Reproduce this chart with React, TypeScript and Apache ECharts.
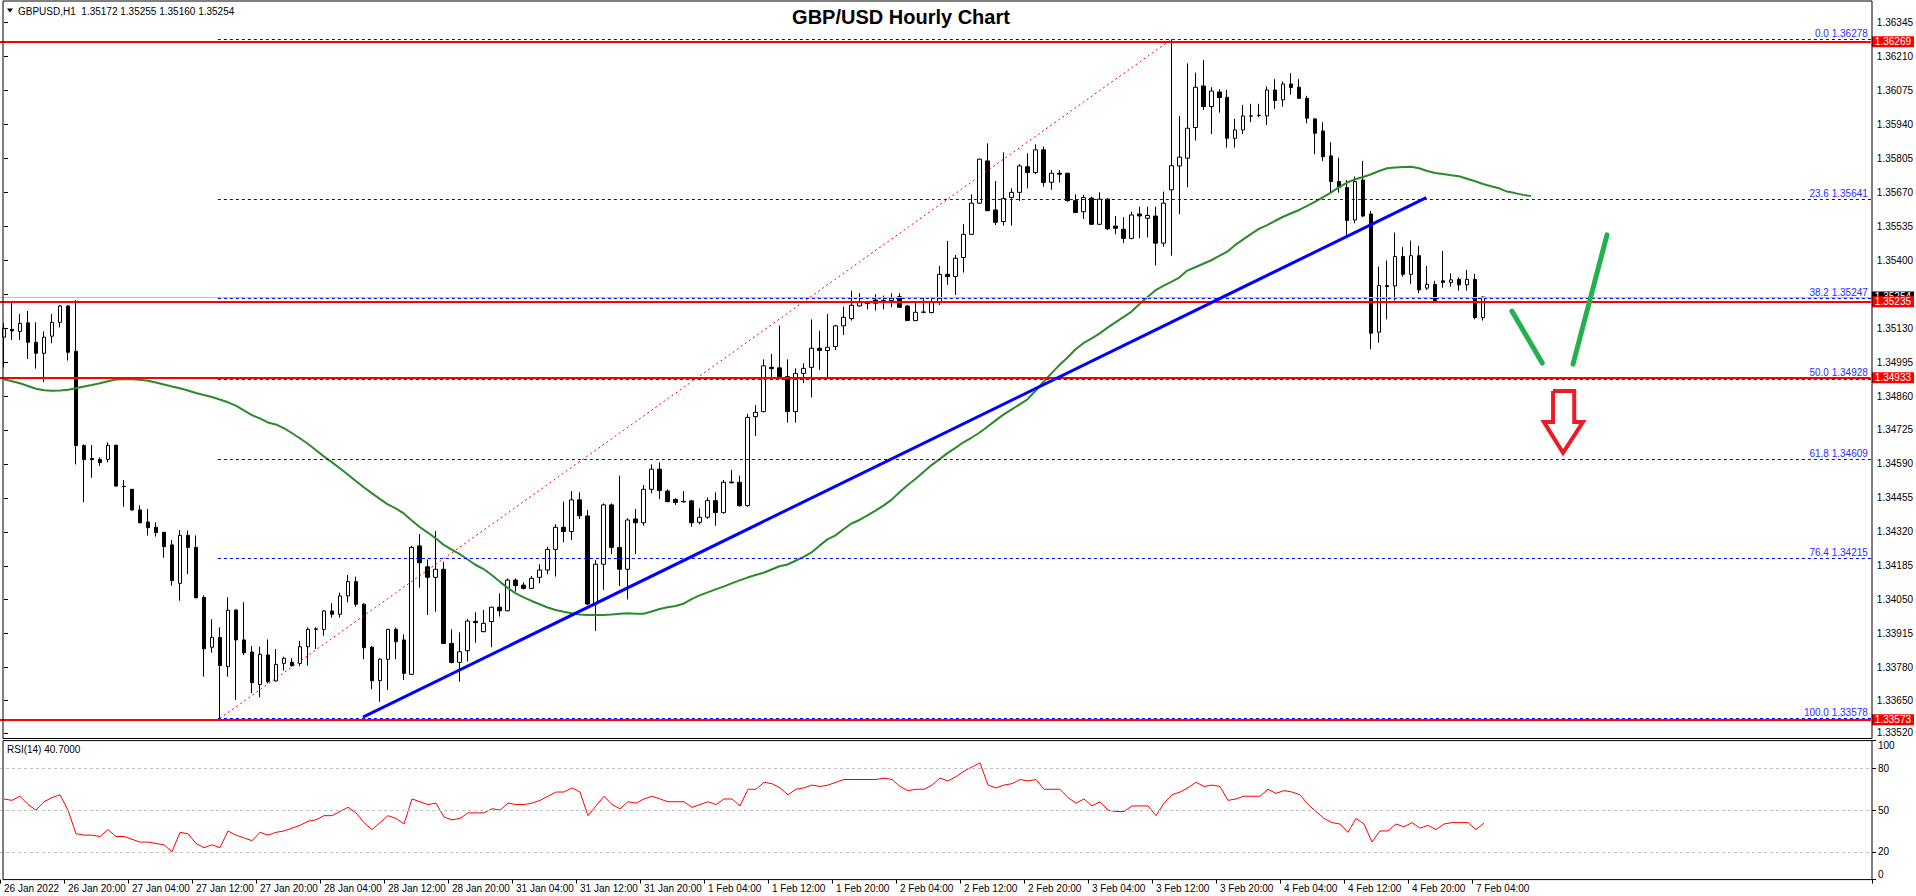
import React, { useEffect, useRef } from "react";
import * as echarts from "echarts";

const xTickLabels = [
  "26 Jan 2022", "26 Jan 20:00", "27 Jan 04:00", "27 Jan 12:00", "27 Jan 20:00", "28 Jan 04:00",
  "28 Jan 12:00", "28 Jan 20:00", "31 Jan 04:00", "31 Jan 12:00", "31 Jan 20:00", "1 Feb 04:00",
  "1 Feb 12:00", "1 Feb 20:00", "2 Feb 04:00", "2 Feb 12:00", "2 Feb 20:00", "3 Feb 04:00",
  "3 Feb 12:00", "3 Feb 20:00", "4 Feb 04:00", "4 Feb 12:00", "4 Feb 20:00", "7 Feb 04:00",
];

// hourly candles, 26 Jan 12:00 .. 7 Feb 05:00 : [open, high, low, close]
const candles: number[][] = [
  [1.35094, 1.35149, 1.34974, 1.35129], [1.35125, 1.35231, 1.35083, 1.35119], [1.35117, 1.35186, 1.35083, 1.35149],
  [1.35151, 1.35198, 1.35007, 1.35074], [1.35074, 1.35153, 1.34969, 1.3503], [1.3503, 1.35117, 1.34915, 1.35094],
  [1.35098, 1.35186, 1.3507, 1.35153], [1.35153, 1.35222, 1.35133, 1.35218], [1.35218, 1.35222, 1.35001, 1.35034],
  [1.35038, 1.35242, 1.34588, 1.34663], [1.34663, 1.34668, 1.34437, 1.34607], [1.34612, 1.34665, 1.34535, 1.34607],
  [1.34608, 1.34616, 1.34582, 1.34595], [1.34608, 1.34676, 1.34596, 1.34664], [1.34664, 1.34667, 1.345, 1.34502],
  [1.34501, 1.34526, 1.3442, 1.345], [1.34489, 1.3449, 1.34404, 1.34407], [1.34407, 1.34425, 1.34354, 1.34356],
  [1.34359, 1.34411, 1.34305, 1.34337], [1.34338, 1.34358, 1.34301, 1.34317], [1.34318, 1.34319, 1.34217, 1.34261],
  [1.34268, 1.34287, 1.34106, 1.34126], [1.34115, 1.34327, 1.34046, 1.34306], [1.34306, 1.34325, 1.34152, 1.34258],
  [1.34258, 1.34306, 1.34055, 1.34058], [1.34059, 1.34067, 1.33744, 1.33855], [1.33861, 1.33972, 1.33839, 1.339],
  [1.339, 1.3394, 1.33578, 1.33788], [1.33784, 1.34059, 1.33744, 1.34008], [1.34009, 1.34012, 1.33651, 1.3389],
  [1.3389, 1.3404, 1.3383, 1.33839], [1.33842, 1.33866, 1.33678, 1.3372], [1.33713, 1.33863, 1.33662, 1.33833],
  [1.3383, 1.33892, 1.33717, 1.33724], [1.33727, 1.33854, 1.33724, 1.33793], [1.33797, 1.33823, 1.33768, 1.33817],
  [1.33801, 1.33817, 1.33784, 1.33788], [1.33797, 1.33886, 1.33786, 1.33863], [1.33863, 1.3394, 1.33788, 1.33932],
  [1.33932, 1.3394, 1.33854, 1.33934], [1.33932, 1.34009, 1.33907, 1.34005], [1.34005, 1.34036, 1.33979, 1.33992],
  [1.33992, 1.34078, 1.33979, 1.34065], [1.34065, 1.34148, 1.3404, 1.34122], [1.34122, 1.34142, 1.34022, 1.34032],
  [1.34032, 1.34036, 1.33813, 1.33859], [1.33861, 1.33866, 1.33694, 1.33728], [1.33728, 1.33817, 1.33644, 1.33813],
  [1.33813, 1.33934, 1.33691, 1.33932], [1.33932, 1.33939, 1.33813, 1.33883], [1.3389, 1.33912, 1.33731, 1.33757],
  [1.33753, 1.34264, 1.33751, 1.34258], [1.34264, 1.34311, 1.34098, 1.34197], [1.34181, 1.3421, 1.33989, 1.34139],
  [1.34139, 1.34323, 1.34002, 1.34171], [1.34171, 1.34201, 1.33874, 1.33876], [1.33876, 1.33932, 1.33797, 1.338],
  [1.33801, 1.3392, 1.33724, 1.33843], [1.33847, 1.33973, 1.33804, 1.33965], [1.33964, 1.34, 1.33879, 1.33959],
  [1.33923, 1.34009, 1.3392, 1.33956], [1.33963, 1.34022, 1.33861, 1.3402], [1.3402, 1.34075, 1.33983, 1.34006],
  [1.34006, 1.34135, 1.34004, 1.34128], [1.34128, 1.34135, 1.34082, 1.34106], [1.34108, 1.34119, 1.34091, 1.34095],
  [1.34095, 1.34144, 1.34093, 1.34135], [1.34139, 1.34191, 1.34115, 1.34168], [1.34168, 1.34261, 1.34151, 1.3425],
  [1.3425, 1.3435, 1.34142, 1.34338], [1.34338, 1.3444, 1.34278, 1.34321], [1.34321, 1.34482, 1.34287, 1.34447],
  [1.34447, 1.34477, 1.34371, 1.34384], [1.34383, 1.34407, 1.34029, 1.34033], [1.34033, 1.34208, 1.33926, 1.34191],
  [1.34191, 1.34433, 1.34089, 1.34427], [1.34427, 1.34433, 1.34232, 1.34258], [1.34258, 1.34543, 1.34105, 1.34171],
  [1.34171, 1.34374, 1.34051, 1.34367], [1.34371, 1.34411, 1.34232, 1.34356], [1.34356, 1.34506, 1.34344, 1.34489],
  [1.34489, 1.34588, 1.34473, 1.34569], [1.34569, 1.34596, 1.3445, 1.34484], [1.34482, 1.34489, 1.34437, 1.3444],
  [1.34449, 1.34453, 1.34427, 1.34437], [1.34441, 1.34482, 1.34437, 1.34439], [1.34443, 1.34447, 1.3434, 1.34356],
  [1.34358, 1.34413, 1.3435, 1.34378], [1.34378, 1.34457, 1.34372, 1.34444], [1.34444, 1.34477, 1.34344, 1.34397],
  [1.34396, 1.34526, 1.34393, 1.34517], [1.34518, 1.34566, 1.34513, 1.34515], [1.34517, 1.34543, 1.3442, 1.34424],
  [1.34424, 1.34789, 1.3442, 1.34775], [1.34778, 1.34824, 1.34701, 1.34795], [1.34798, 1.35006, 1.34795, 1.3498],
  [1.34974, 1.35027, 1.34928, 1.34969], [1.34972, 1.3514, 1.3493, 1.34937], [1.34937, 1.35006, 1.34754, 1.34798],
  [1.34798, 1.3497, 1.34754, 1.3495], [1.3495, 1.3499, 1.34911, 1.3497], [1.34974, 1.35165, 1.34854, 1.3505],
  [1.3505, 1.35119, 1.34964, 1.35041], [1.35041, 1.35186, 1.34931, 1.35054], [1.35057, 1.35143, 1.35043, 1.35139],
  [1.35139, 1.35216, 1.35103, 1.35173], [1.35168, 1.35278, 1.3516, 1.35221], [1.35218, 1.35269, 1.35216, 1.35232],
  [1.35229, 1.35236, 1.35205, 1.35228], [1.35242, 1.35265, 1.352, 1.35229], [1.35236, 1.35259, 1.35205, 1.3524],
  [1.3524, 1.35269, 1.35213, 1.35251], [1.35255, 1.35269, 1.3521, 1.35213], [1.35218, 1.35222, 1.3516, 1.3516],
  [1.3516, 1.35232, 1.3516, 1.35193], [1.35193, 1.35251, 1.35189, 1.35194], [1.35192, 1.35249, 1.35189, 1.35232],
  [1.35232, 1.35377, 1.35222, 1.35344], [1.35344, 1.35477, 1.35302, 1.35335], [1.35335, 1.35421, 1.35262, 1.35408],
  [1.35411, 1.35543, 1.35351, 1.35503], [1.35503, 1.35662, 1.35501, 1.35627], [1.35627, 1.35804, 1.35624, 1.35802],
  [1.35795, 1.35865, 1.35597, 1.35597], [1.356, 1.35715, 1.3554, 1.35551], [1.35554, 1.35829, 1.35538, 1.35646],
  [1.3565, 1.35686, 1.35538, 1.3567], [1.3567, 1.35782, 1.35636, 1.35775], [1.35772, 1.35825, 1.35686, 1.35749],
  [1.35749, 1.35861, 1.35742, 1.35839], [1.35839, 1.35852, 1.35693, 1.35709], [1.3571, 1.35759, 1.3568, 1.35746],
  [1.35746, 1.35759, 1.35709, 1.35742], [1.35746, 1.35748, 1.35633, 1.35637], [1.35637, 1.35662, 1.35587, 1.3559],
  [1.35593, 1.3566, 1.35564, 1.35649], [1.35647, 1.35653, 1.3554, 1.35543], [1.35543, 1.3567, 1.3554, 1.35643],
  [1.35643, 1.35647, 1.35521, 1.35525], [1.35536, 1.35576, 1.35503, 1.35527], [1.35523, 1.35571, 1.35468, 1.35487],
  [1.35487, 1.35593, 1.35483, 1.3558], [1.35584, 1.35613, 1.35487, 1.35576], [1.35567, 1.35613, 1.35491, 1.35578],
  [1.35576, 1.35613, 1.35379, 1.35468], [1.35468, 1.35673, 1.35454, 1.35627], [1.3568, 1.36278, 1.35418, 1.35776],
  [1.35775, 1.35974, 1.35583, 1.3581], [1.35806, 1.36183, 1.3569, 1.35925], [1.35928, 1.36146, 1.35876, 1.36088],
  [1.36093, 1.36197, 1.35998, 1.36011], [1.36011, 1.36088, 1.35902, 1.36073], [1.36069, 1.3608, 1.35987, 1.36047],
  [1.36048, 1.36077, 1.35848, 1.35885], [1.35885, 1.35962, 1.35848, 1.35918], [1.35918, 1.36018, 1.35902, 1.35974],
  [1.35973, 1.36022, 1.35949, 1.35974], [1.35975, 1.36022, 1.35969, 1.35977], [1.35974, 1.36091, 1.35938, 1.36077],
  [1.36077, 1.3612, 1.36002, 1.36035], [1.36038, 1.36111, 1.36011, 1.36101], [1.36101, 1.36144, 1.36058, 1.36087],
  [1.36088, 1.3612, 1.36041, 1.36044], [1.36044, 1.36054, 1.35945, 1.35965], [1.35962, 1.35965, 1.35822, 1.35905],
  [1.35914, 1.35949, 1.35795, 1.35812], [1.35815, 1.35869, 1.35669, 1.35713], [1.35713, 1.35808, 1.35669, 1.35689],
  [1.35689, 1.35719, 1.35501, 1.35558], [1.3556, 1.35733, 1.35547, 1.35713], [1.35719, 1.35795, 1.35571, 1.35576],
  [1.35584, 1.35596, 1.35046, 1.3511], [1.35114, 1.35375, 1.35072, 1.35299], [1.35299, 1.35399, 1.35165, 1.35295],
  [1.35298, 1.3551, 1.3524, 1.35415], [1.35415, 1.35452, 1.35335, 1.35344], [1.35344, 1.35478, 1.35306, 1.35418],
  [1.35418, 1.35457, 1.35269, 1.35282], [1.35289, 1.35377, 1.35282, 1.35304], [1.35304, 1.35318, 1.35238, 1.3524],
  [1.35318, 1.35437, 1.35291, 1.35312], [1.35312, 1.35348, 1.35295, 1.35322], [1.35324, 1.35332, 1.35279, 1.35302],
  [1.35302, 1.35361, 1.35279, 1.35324], [1.35324, 1.35346, 1.35165, 1.35172], [1.35172, 1.35255, 1.3516, 1.35254],
];

// moving average (green), drawn with a forward shift, so it runs a few bars past the last candle
const maValues = [
  1.34927, 1.34919, 1.34911, 1.349, 1.34889, 1.34883, 1.34881, 1.34882, 1.34885, 1.34891,
  1.34898, 1.34904, 1.34911, 1.34919, 1.34926, 1.34927, 1.34927, 1.34925, 1.34921, 1.34914,
  1.34906, 1.34898, 1.34891, 1.34882, 1.34872, 1.34864, 1.34856, 1.34846, 1.34835, 1.34822,
  1.34803, 1.34784, 1.34771, 1.34755, 1.34747, 1.34732, 1.34713, 1.34692, 1.3467, 1.34645,
  1.3462, 1.34597, 1.34573, 1.34548, 1.34522, 1.34497, 1.34474, 1.34451, 1.34429, 1.34413,
  1.34393, 1.34365, 1.34339, 1.34317, 1.34294, 1.34268, 1.34249, 1.34231, 1.3421, 1.34188,
  1.34172, 1.34148, 1.34122, 1.34097, 1.34075, 1.34059, 1.34045, 1.34032, 1.34019, 1.34009,
  1.34002, 1.33996, 1.33991, 1.33989, 1.33989, 1.33989, 1.33991, 1.33994, 1.33996, 1.33994,
  1.33994, 1.34003, 1.34013, 1.3402, 1.34025, 1.34034, 1.34052, 1.34067, 1.34079, 1.34091,
  1.34102, 1.34115, 1.34127, 1.34138, 1.34148, 1.34157, 1.3417, 1.34183, 1.3419, 1.34205,
  1.3422, 1.34238, 1.34265, 1.3429, 1.34306, 1.3433, 1.34353, 1.34367, 1.34385, 1.34404,
  1.34424, 1.34447, 1.34477, 1.34505, 1.3453, 1.34558, 1.34585, 1.34608, 1.34633, 1.34654,
  1.34676, 1.34694, 1.34714, 1.34738, 1.34762, 1.34786, 1.34806, 1.34826, 1.34847, 1.3488,
  1.34916, 1.3495, 1.34983, 1.35012, 1.35045, 1.3507, 1.35088, 1.35108, 1.35131, 1.35153,
  1.35174, 1.35195, 1.35225, 1.35253, 1.3528, 1.35298, 1.35314, 1.35331, 1.35359, 1.35372,
  1.35386, 1.354, 1.35417, 1.35434, 1.35461, 1.35483, 1.35505, 1.35526, 1.3554, 1.35557,
  1.35573, 1.35587, 1.356, 1.35616, 1.35633, 1.35651, 1.3567, 1.35691, 1.35709, 1.35722,
  1.35731, 1.35742, 1.35755, 1.35766, 1.35769, 1.35771, 1.35772, 1.35766, 1.35755, 1.35747,
  1.35743, 1.35738, 1.35734, 1.35724, 1.35714, 1.35703, 1.35694, 1.35686, 1.35673, 1.35667,
  1.3566, 1.35655,
];

const rsiValues = [
  58, 57, 60, 54, 50, 56, 59, 61, 50, 33,
  32, 32, 31, 36, 31, 31, 29, 27, 27, 26,
  25, 20, 34, 33, 26, 23, 25, 23, 35, 32,
  30, 28, 34, 32, 34, 35, 37, 39, 42, 43,
  46, 46, 49, 52, 48, 41, 36, 41, 46, 44,
  40, 58, 56, 54, 55, 45, 43, 44, 48, 48,
  48, 51, 50, 55, 54, 54, 55, 57, 60, 63,
  63, 66, 63, 46, 53, 60, 54, 51, 56, 55,
  58, 60, 58, 56, 56, 56, 52, 54, 56, 54,
  58, 58, 53, 65, 65, 70, 69, 66, 61, 65,
  66, 68, 67, 68, 70, 72, 72, 72, 72, 72,
  73, 72, 67, 64, 65, 65, 68, 73, 71, 74,
  78, 81, 84, 68, 66, 68, 69, 72, 71, 72,
  65, 65, 65, 59, 55, 58, 53, 56, 50, 49,
  49, 53, 53, 53, 46, 55, 61, 63, 66, 70,
  67, 68, 67, 57, 58, 60, 60, 60, 65, 62,
  64, 63, 61, 54, 49, 44, 41, 40, 34, 44,
  40, 27, 35, 35, 40, 38, 41, 37, 39, 36,
  40, 41, 41, 41, 36, 40.7,
];

// price scale ticks; the 1.35265 label is hidden behind the bid/level boxes in the reference
const priceTicks = [
  1.36345, 1.3621, 1.36075, 1.3594, 1.35805, 1.3567, 1.35535, 1.354, 1.35265, 1.3513,
  1.34995, 1.3486, 1.34725, 1.3459, 1.34455, 1.3432, 1.34185, 1.3405, 1.33915, 1.3378,
  1.3365, 1.3352,
];
const hiddenPriceLabels = [1.35265];
const rsiTicks = [0, 20, 50, 80, 100];
const rsiLevels = [20, 50, 80];

const fibRatios = [0.0, 23.6, 38.2, 50.0, 61.8, 76.4, 100.0];
const fibPrices = [1.36278, 1.35641, 1.35247, 1.34928, 1.34609, 1.34215, 1.33578];
const fibStartBar = 26.75;
const redLevels = [1.36269, 1.35235, 1.34933, 1.33573];
const bidPrice = 1.35254;

// drawn objects in [bar position, price]
const fibDiagonal = [[27, 1.33578], [146, 1.36278]];
const trendLine = [[44.9, 1.33583], [177.9, 1.35649]];
const greenStrokeA = [[188.6, 1.35198], [192.4, 1.34991]];
const greenStrokeB = [[196.25, 1.34987], [200.5, 1.35501]];
const arrowOutline = [
  [193.75, 1.3488], [196.4, 1.3488], [196.4, 1.34757], [197.5, 1.34757], [195.0, 1.34634],
  [192.6, 1.34757], [193.75, 1.34757], [193.75, 1.3488],
];

const N_SLOTS = 234;
const FONT = "Liberation Sans";

export default function App() {
  const ref = useRef<HTMLDivElement>(null);
  useEffect(() => {
    document.body.style.margin = "0";
    const chart = echarts.init(ref.current!, null, { renderer: "svg" });
    const categories = Array.from({ length: N_SLOTS }, (_, i) =>
      i % 8 === 0 && i / 8 < xTickLabels.length ? xTickLabels[i / 8] : ""
    );
    const lastTick = (xTickLabels.length - 1) * 8;
    const last = candles[candles.length - 1];
    const showTick = (i: number) => i % 8 === 0 && i <= lastTick;
    const priceLabels = priceTicks.filter((v) => !hiddenPriceLabels.includes(v));
    const fullWidth = (p: number, lineStyle: any, label: any) => [
      { coord: [-0.5, p], lineStyle, label },
      { coord: [N_SLOTS - 0.5, p] },
    ];

    const option: any = {
      animation: false,
      textStyle: { fontFamily: FONT },
      grid: [
        { left: 0, top: 1, width: 1872, height: 737.5 },
        { left: 0, top: 740.6, width: 1872, height: 139 },
      ],
      xAxis: [
        { type: "category", gridIndex: 0, data: categories, boundaryGap: true, show: false },
        {
          type: "category", gridIndex: 1, data: categories, boundaryGap: true,
          axisLine: { show: false },
          axisTick: { show: true, interval: (i: number) => showTick(i), alignWithLabel: false, length: 4, lineStyle: { color: "#000" } },
          axisLabel: { interval: (i: number) => showTick(i), align: "left", color: "#000", fontSize: 10, margin: 4, fontFamily: FONT },
          splitLine: { show: false },
        },
        { type: "value", gridIndex: 0, min: -0.5, max: N_SLOTS - 0.5, show: false },
      ],
      yAxis: [
        {
          type: "value", gridIndex: 0, position: "right", min: 1.33498, max: 1.36431,
          splitLine: { show: false }, axisLine: { show: false },
          axisTick: { show: true, customValues: priceTicks, length: 4, lineStyle: { color: "#000" } },
          axisLabel: { customValues: priceLabels, formatter: (v: number) => v.toFixed(5), color: "#000", fontSize: 10, margin: 6, fontFamily: FONT },
        },
        {
          type: "value", gridIndex: 1, position: "right", min: 0, max: 100,
          splitLine: { show: false }, axisLine: { show: false },
          axisTick: { show: true, customValues: rsiTicks, length: 4, lineStyle: { color: "#000" } },
          axisLabel: {
            customValues: rsiTicks, color: "#000", fontSize: 10, margin: 6, fontFamily: FONT,
            verticalAlignMaxLabel: "top", verticalAlignMinLabel: "bottom",
          },
        },
      ],
      series: [
        {
          type: "candlestick", xAxisIndex: 0, yAxisIndex: 0, z: 2, barWidth: 4,
          data: candles.map((c) => [c[0], c[3], c[2], c[1]]),
          itemStyle: { color: "#ffffff", color0: "#000000", borderColor: "#000000", borderColor0: "#000000", borderWidth: 1 },
        },
        {
          type: "line", xAxisIndex: 0, yAxisIndex: 0, z: 3, data: maValues, symbol: "none",
          lineStyle: { color: "#2b8a2b", width: 2 },
        },
        {
          type: "line", xAxisIndex: 2, yAxisIndex: 0, z: 3, data: [], symbol: "none",
          markLine: {
            silent: true, symbol: ["none", "none"],
            data: [fullWidth(
              bidPrice,
              { color: "#c0c0c0", width: 1, type: "solid" },
              { show: true, position: "end", distance: 1, formatter: bidPrice.toFixed(5), backgroundColor: "#000", color: "#fff", padding: [1, 3, 0, 3], fontSize: 10, fontFamily: FONT },
            )],
          },
        },
        {
          type: "line", xAxisIndex: 2, yAxisIndex: 0, z: 4, data: [], symbol: "none",
          markLine: {
            silent: true, symbol: ["none", "none"],
            data: fibPrices.map((p, k) => [
              {
                coord: [fibStartBar, p],
                lineStyle: { color: "#0000ff", width: 1, type: [3, 3] },
                label: {
                  show: true, position: "insideEndTop", distance: [3, 1],
                  formatter: `${fibRatios[k].toFixed(1)} ${p.toFixed(5)}`,
                  color: "#2a2aff", fontSize: 10, fontFamily: FONT,
                },
              },
              { coord: [N_SLOTS - 0.5, p] },
            ]),
          },
        },
        {
          type: "line", xAxisIndex: 2, yAxisIndex: 0, z: 5, data: [], symbol: "none",
          markLine: {
            silent: true, symbol: ["none", "none"],
            data: redLevels.map((p) => fullWidth(
              p,
              { color: "#ff0000", width: 2, type: "solid" },
              { show: true, position: "end", distance: 1, formatter: p.toFixed(5), backgroundColor: "#ff0000", color: "#fff", padding: [1, 3, 0, 3], fontSize: 10, fontFamily: FONT },
            )),
          },
        },
        {
          type: "line", xAxisIndex: 2, yAxisIndex: 0, z: 4, data: fibDiagonal, symbol: "none",
          lineStyle: { color: "#ff0000", width: 1, type: [2, 3] },
        },
        {
          type: "line", xAxisIndex: 2, yAxisIndex: 0, z: 5, data: trendLine, symbol: "none",
          lineStyle: { color: "#0000ff", width: 3 },
        },
        {
          type: "line", xAxisIndex: 2, yAxisIndex: 0, z: 6, data: greenStrokeA, symbol: "none",
          lineStyle: { color: "#22b14c", width: 5, cap: "round" },
        },
        {
          type: "line", xAxisIndex: 2, yAxisIndex: 0, z: 6, data: greenStrokeB, symbol: "none",
          lineStyle: { color: "#22b14c", width: 5, cap: "round" },
        },
        {
          type: "line", xAxisIndex: 2, yAxisIndex: 0, z: 6, data: arrowOutline, symbol: "none",
          lineStyle: { color: "#ed1c24", width: 4, join: "miter" },
        },
        {
          type: "line", xAxisIndex: 1, yAxisIndex: 1, z: 3, data: rsiValues, symbol: "none",
          lineStyle: { color: "#ff0000", width: 1 },
          markLine: {
            silent: true, symbol: ["none", "none"], label: { show: false },
            data: rsiLevels.map((v) => ({ yAxis: v })),
            lineStyle: { color: "#c0c0c0", width: 1, type: [3, 3] },
          },
        },
      ],
      graphic: [
        { type: "rect", shape: { x: 3, y: 1, width: 1869, height: 737.5 }, style: { fill: "none", stroke: "#000", lineWidth: 1 }, z: 100 },
        { type: "rect", shape: { x: 3, y: 740.6, width: 1869, height: 139 }, style: { fill: "none", stroke: "#000", lineWidth: 1 }, z: 100 },
        { type: "polygon", shape: { points: [[7, 8.5], [13, 8.5], [10, 12.5]] }, style: { fill: "#000" }, z: 100 },
        {
          type: "text", x: 18, y: 11, z: 100,
          style: {
            text: `GBPUSD,H1  ${last[0].toFixed(5)} ${last[1].toFixed(5)} ${last[2].toFixed(5)} ${last[3].toFixed(5)}`,
            font: `10px "${FONT}"`, fill: "#000", align: "left", verticalAlign: "middle",
          },
        },
        {
          type: "text", x: 901, y: 17, z: 100,
          style: { text: "GBP/USD Hourly Chart", font: `bold 20px "${FONT}"`, fill: "#000", align: "center", verticalAlign: "middle" },
        },
        {
          type: "text", x: 7, y: 749, z: 100,
          style: { text: `RSI(14) ${rsiValues[rsiValues.length - 1].toFixed(4)}`, font: `10px "${FONT}"`, fill: "#000", align: "left", verticalAlign: "middle" },
        },
      ],
    };
    chart.setOption(option);
    return () => chart.dispose();
  }, []);
  return (
    <div
      ref={ref}
      style={{ position: "fixed", left: 0, top: 0, width: 1916, height: 896, background: "#fff" }}
    />
  );
}
